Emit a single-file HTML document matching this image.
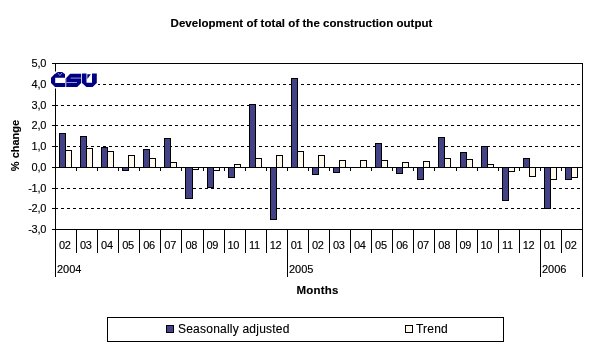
<!DOCTYPE html>
<html><head><meta charset="utf-8"><style>
html,body{margin:0;padding:0;background:#fff;width:604px;height:349px;overflow:hidden}
svg{position:absolute;left:0;top:0;will-change:transform}
text{font-family:"Liberation Sans", sans-serif;font-size:11px;fill:#000}
.thr{filter:url(#thr)}
</style></head><body>
<svg width="604" height="349" viewBox="0 0 604 349" shape-rendering="crispEdges">
<defs><filter id="thr" filterUnits="userSpaceOnUse" x="0" y="0" width="604" height="349"><feComponentTransfer><feFuncA type="gamma" amplitude="1" exponent="0.75" offset="0"/></feComponentTransfer></filter></defs>
<g class="thr">
<text x="301.5" y="27" text-anchor="middle" font-weight="bold" style="font-size:11.5px;letter-spacing:0.04px">Development of total of the construction output</text>
</g>
<line x1="55" y1="84.5" x2="582" y2="84.5" stroke="#000" stroke-width="1" stroke-dasharray="3 3"/>
<line x1="55" y1="105.5" x2="582" y2="105.5" stroke="#000" stroke-width="1" stroke-dasharray="3 3"/>
<line x1="55" y1="125.5" x2="582" y2="125.5" stroke="#000" stroke-width="1" stroke-dasharray="3 3"/>
<line x1="55" y1="146.5" x2="582" y2="146.5" stroke="#000" stroke-width="1" stroke-dasharray="3 3"/>
<line x1="55" y1="188.5" x2="582" y2="188.5" stroke="#000" stroke-width="1" stroke-dasharray="3 3"/>
<line x1="55" y1="208.5" x2="582" y2="208.5" stroke="#000" stroke-width="1" stroke-dasharray="3 3"/>
<rect x="59.5" y="133.5" width="6" height="34" fill="#444287" stroke="#000" stroke-width="1"/>
<rect x="65.5" y="150.5" width="6" height="17" fill="#fff9ec" stroke="#000" stroke-width="1"/>
<rect x="80.5" y="136.5" width="6" height="31" fill="#444287" stroke="#000" stroke-width="1"/>
<rect x="86.5" y="148.5" width="6" height="19" fill="#fff9ec" stroke="#000" stroke-width="1"/>
<rect x="101.5" y="147.5" width="6" height="20" fill="#444287" stroke="#000" stroke-width="1"/>
<rect x="107.5" y="151.5" width="6" height="16" fill="#fff9ec" stroke="#000" stroke-width="1"/>
<rect x="122.5" y="167.5" width="6" height="3" fill="#444287" stroke="#000" stroke-width="1"/>
<rect x="128.5" y="155.5" width="6" height="12" fill="#fff9ec" stroke="#000" stroke-width="1"/>
<rect x="143.5" y="149.5" width="6" height="18" fill="#444287" stroke="#000" stroke-width="1"/>
<rect x="149.5" y="158.5" width="6" height="9" fill="#fff9ec" stroke="#000" stroke-width="1"/>
<rect x="164.5" y="138.5" width="6" height="29" fill="#444287" stroke="#000" stroke-width="1"/>
<rect x="170.5" y="162.5" width="6" height="5" fill="#fff9ec" stroke="#000" stroke-width="1"/>
<rect x="185.5" y="167.5" width="7" height="31" fill="#444287" stroke="#000" stroke-width="1"/>
<rect x="192.5" y="167.5" width="6" height="2" fill="#fff9ec" stroke="#000" stroke-width="1"/>
<rect x="207.5" y="167.5" width="6" height="20" fill="#444287" stroke="#000" stroke-width="1"/>
<rect x="213.5" y="167.5" width="6" height="3" fill="#fff9ec" stroke="#000" stroke-width="1"/>
<rect x="228.5" y="167.5" width="6" height="10" fill="#444287" stroke="#000" stroke-width="1"/>
<rect x="234.5" y="164.5" width="6" height="3" fill="#fff9ec" stroke="#000" stroke-width="1"/>
<rect x="249.5" y="104.5" width="6" height="63" fill="#444287" stroke="#000" stroke-width="1"/>
<rect x="255.5" y="158.5" width="6" height="9" fill="#fff9ec" stroke="#000" stroke-width="1"/>
<rect x="270.5" y="167.5" width="6" height="52" fill="#444287" stroke="#000" stroke-width="1"/>
<rect x="276.5" y="155.5" width="6" height="12" fill="#fff9ec" stroke="#000" stroke-width="1"/>
<rect x="291.5" y="78.5" width="6" height="89" fill="#444287" stroke="#000" stroke-width="1"/>
<rect x="297.5" y="151.5" width="6" height="16" fill="#fff9ec" stroke="#000" stroke-width="1"/>
<rect x="312.5" y="167.5" width="6" height="7" fill="#444287" stroke="#000" stroke-width="1"/>
<rect x="318.5" y="155.5" width="6" height="12" fill="#fff9ec" stroke="#000" stroke-width="1"/>
<rect x="333.5" y="167.5" width="6" height="5" fill="#444287" stroke="#000" stroke-width="1"/>
<rect x="339.5" y="160.5" width="6" height="7" fill="#fff9ec" stroke="#000" stroke-width="1"/>
<rect x="360.5" y="160.5" width="6" height="7" fill="#fff9ec" stroke="#000" stroke-width="1"/>
<rect x="375.5" y="143.5" width="6" height="24" fill="#444287" stroke="#000" stroke-width="1"/>
<rect x="381.5" y="160.5" width="6" height="7" fill="#fff9ec" stroke="#000" stroke-width="1"/>
<rect x="396.5" y="167.5" width="6" height="6" fill="#444287" stroke="#000" stroke-width="1"/>
<rect x="402.5" y="162.5" width="6" height="5" fill="#fff9ec" stroke="#000" stroke-width="1"/>
<rect x="417.5" y="167.5" width="6" height="12" fill="#444287" stroke="#000" stroke-width="1"/>
<rect x="423.5" y="161.5" width="6" height="6" fill="#fff9ec" stroke="#000" stroke-width="1"/>
<rect x="438.5" y="137.5" width="6" height="30" fill="#444287" stroke="#000" stroke-width="1"/>
<rect x="444.5" y="158.5" width="6" height="9" fill="#fff9ec" stroke="#000" stroke-width="1"/>
<rect x="460.5" y="152.5" width="6" height="15" fill="#444287" stroke="#000" stroke-width="1"/>
<rect x="466.5" y="159.5" width="6" height="8" fill="#fff9ec" stroke="#000" stroke-width="1"/>
<rect x="481.5" y="146.5" width="6" height="21" fill="#444287" stroke="#000" stroke-width="1"/>
<rect x="487.5" y="164.5" width="6" height="3" fill="#fff9ec" stroke="#000" stroke-width="1"/>
<rect x="502.5" y="167.5" width="6" height="33" fill="#444287" stroke="#000" stroke-width="1"/>
<rect x="508.5" y="167.5" width="6" height="4" fill="#fff9ec" stroke="#000" stroke-width="1"/>
<rect x="523.5" y="158.5" width="6" height="9" fill="#444287" stroke="#000" stroke-width="1"/>
<rect x="529.5" y="167.5" width="6" height="9" fill="#fff9ec" stroke="#000" stroke-width="1"/>
<rect x="544.5" y="167.5" width="6" height="41" fill="#444287" stroke="#000" stroke-width="1"/>
<rect x="550.5" y="167.5" width="6" height="12" fill="#fff9ec" stroke="#000" stroke-width="1"/>
<rect x="565.5" y="167.5" width="6" height="12" fill="#444287" stroke="#000" stroke-width="1"/>
<rect x="571.5" y="167.5" width="6" height="10" fill="#fff9ec" stroke="#000" stroke-width="1"/>
<line x1="55" y1="167.5" x2="583" y2="167.5" stroke="#000"/>
<line x1="76.5" y1="168" x2="76.5" y2="171" stroke="#000"/>
<line x1="97.5" y1="168" x2="97.5" y2="171" stroke="#000"/>
<line x1="118.5" y1="168" x2="118.5" y2="171" stroke="#000"/>
<line x1="139.5" y1="168" x2="139.5" y2="171" stroke="#000"/>
<line x1="160.5" y1="168" x2="160.5" y2="171" stroke="#000"/>
<line x1="181.5" y1="168" x2="181.5" y2="171" stroke="#000"/>
<line x1="203.5" y1="168" x2="203.5" y2="171" stroke="#000"/>
<line x1="224.5" y1="168" x2="224.5" y2="171" stroke="#000"/>
<line x1="245.5" y1="168" x2="245.5" y2="171" stroke="#000"/>
<line x1="266.5" y1="168" x2="266.5" y2="171" stroke="#000"/>
<line x1="287.5" y1="168" x2="287.5" y2="171" stroke="#000"/>
<line x1="308.5" y1="168" x2="308.5" y2="171" stroke="#000"/>
<line x1="329.5" y1="168" x2="329.5" y2="171" stroke="#000"/>
<line x1="350.5" y1="168" x2="350.5" y2="171" stroke="#000"/>
<line x1="371.5" y1="168" x2="371.5" y2="171" stroke="#000"/>
<line x1="392.5" y1="168" x2="392.5" y2="171" stroke="#000"/>
<line x1="413.5" y1="168" x2="413.5" y2="171" stroke="#000"/>
<line x1="434.5" y1="168" x2="434.5" y2="171" stroke="#000"/>
<line x1="456.5" y1="168" x2="456.5" y2="171" stroke="#000"/>
<line x1="477.5" y1="168" x2="477.5" y2="171" stroke="#000"/>
<line x1="498.5" y1="168" x2="498.5" y2="171" stroke="#000"/>
<line x1="519.5" y1="168" x2="519.5" y2="171" stroke="#000"/>
<line x1="540.5" y1="168" x2="540.5" y2="171" stroke="#000"/>
<line x1="561.5" y1="168" x2="561.5" y2="171" stroke="#000"/>
<line x1="55" y1="63.5" x2="583" y2="63.5" stroke="#000"/>
<line x1="582.5" y1="63" x2="582.5" y2="277" stroke="#000"/>
<line x1="55.5" y1="63" x2="55.5" y2="277" stroke="#000"/>
<line x1="52" y1="229.5" x2="583" y2="229.5" stroke="#000"/>
<line x1="52" y1="63.5" x2="55" y2="63.5" stroke="#000"/>
<line x1="52" y1="84.5" x2="55" y2="84.5" stroke="#000"/>
<line x1="52" y1="105.5" x2="55" y2="105.5" stroke="#000"/>
<line x1="52" y1="125.5" x2="55" y2="125.5" stroke="#000"/>
<line x1="52" y1="146.5" x2="55" y2="146.5" stroke="#000"/>
<line x1="52" y1="167.5" x2="55" y2="167.5" stroke="#000"/>
<line x1="52" y1="188.5" x2="55" y2="188.5" stroke="#000"/>
<line x1="52" y1="208.5" x2="55" y2="208.5" stroke="#000"/>
<line x1="52" y1="229.5" x2="55" y2="229.5" stroke="#000"/>
<line x1="76.5" y1="229" x2="76.5" y2="253" stroke="#000"/>
<line x1="97.5" y1="229" x2="97.5" y2="253" stroke="#000"/>
<line x1="118.5" y1="229" x2="118.5" y2="253" stroke="#000"/>
<line x1="139.5" y1="229" x2="139.5" y2="253" stroke="#000"/>
<line x1="160.5" y1="229" x2="160.5" y2="253" stroke="#000"/>
<line x1="181.5" y1="229" x2="181.5" y2="253" stroke="#000"/>
<line x1="203.5" y1="229" x2="203.5" y2="253" stroke="#000"/>
<line x1="224.5" y1="229" x2="224.5" y2="253" stroke="#000"/>
<line x1="245.5" y1="229" x2="245.5" y2="253" stroke="#000"/>
<line x1="266.5" y1="229" x2="266.5" y2="253" stroke="#000"/>
<line x1="287.5" y1="229" x2="287.5" y2="277" stroke="#000"/>
<line x1="308.5" y1="229" x2="308.5" y2="253" stroke="#000"/>
<line x1="329.5" y1="229" x2="329.5" y2="253" stroke="#000"/>
<line x1="350.5" y1="229" x2="350.5" y2="253" stroke="#000"/>
<line x1="371.5" y1="229" x2="371.5" y2="253" stroke="#000"/>
<line x1="392.5" y1="229" x2="392.5" y2="253" stroke="#000"/>
<line x1="413.5" y1="229" x2="413.5" y2="253" stroke="#000"/>
<line x1="434.5" y1="229" x2="434.5" y2="253" stroke="#000"/>
<line x1="456.5" y1="229" x2="456.5" y2="253" stroke="#000"/>
<line x1="477.5" y1="229" x2="477.5" y2="253" stroke="#000"/>
<line x1="498.5" y1="229" x2="498.5" y2="253" stroke="#000"/>
<line x1="519.5" y1="229" x2="519.5" y2="253" stroke="#000"/>
<line x1="540.5" y1="229" x2="540.5" y2="277" stroke="#000"/>
<line x1="561.5" y1="229" x2="561.5" y2="253" stroke="#000"/>
<g class="thr">
<text x="46.1" y="67" text-anchor="end" style="letter-spacing:-0.25px">5,0</text>
<text x="46.1" y="88" text-anchor="end" style="letter-spacing:-0.25px">4,0</text>
<text x="46.1" y="109" text-anchor="end" style="letter-spacing:-0.25px">3,0</text>
<text x="46.1" y="129" text-anchor="end" style="letter-spacing:-0.25px">2,0</text>
<text x="46.1" y="150" text-anchor="end" style="letter-spacing:-0.25px">1,0</text>
<text x="46.1" y="171" text-anchor="end" style="letter-spacing:-0.25px">0,0</text>
<text x="46.1" y="192" text-anchor="end" style="letter-spacing:-0.25px">-1,0</text>
<text x="46.1" y="212" text-anchor="end" style="letter-spacing:-0.25px">-2,0</text>
<text x="46.1" y="233" text-anchor="end" style="letter-spacing:-0.25px">-3,0</text>
<text x="64.74" y="249" text-anchor="middle" style="letter-spacing:-0.3px">02</text>
<text x="85.82" y="249" text-anchor="middle" style="letter-spacing:-0.3px">03</text>
<text x="106.90" y="249" text-anchor="middle" style="letter-spacing:-0.3px">04</text>
<text x="127.98" y="249" text-anchor="middle" style="letter-spacing:-0.3px">05</text>
<text x="149.06" y="249" text-anchor="middle" style="letter-spacing:-0.3px">06</text>
<text x="170.14" y="249" text-anchor="middle" style="letter-spacing:-0.3px">07</text>
<text x="191.22" y="249" text-anchor="middle" style="letter-spacing:-0.3px">08</text>
<text x="212.30" y="249" text-anchor="middle" style="letter-spacing:-0.3px">09</text>
<text x="233.38" y="249" text-anchor="middle" style="letter-spacing:-0.3px">10</text>
<text x="254.46" y="249" text-anchor="middle" style="letter-spacing:-0.3px">11</text>
<text x="275.54" y="249" text-anchor="middle" style="letter-spacing:-0.3px">12</text>
<text x="296.62" y="249" text-anchor="middle" style="letter-spacing:-0.3px">01</text>
<text x="317.70" y="249" text-anchor="middle" style="letter-spacing:-0.3px">02</text>
<text x="338.78" y="249" text-anchor="middle" style="letter-spacing:-0.3px">03</text>
<text x="359.86" y="249" text-anchor="middle" style="letter-spacing:-0.3px">04</text>
<text x="380.94" y="249" text-anchor="middle" style="letter-spacing:-0.3px">05</text>
<text x="402.02" y="249" text-anchor="middle" style="letter-spacing:-0.3px">06</text>
<text x="423.10" y="249" text-anchor="middle" style="letter-spacing:-0.3px">07</text>
<text x="444.18" y="249" text-anchor="middle" style="letter-spacing:-0.3px">08</text>
<text x="465.26" y="249" text-anchor="middle" style="letter-spacing:-0.3px">09</text>
<text x="486.34" y="249" text-anchor="middle" style="letter-spacing:-0.3px">10</text>
<text x="507.42" y="249" text-anchor="middle" style="letter-spacing:-0.3px">11</text>
<text x="528.50" y="249" text-anchor="middle" style="letter-spacing:-0.3px">12</text>
<text x="549.58" y="249" text-anchor="middle" style="letter-spacing:-0.3px">01</text>
<text x="570.66" y="249" text-anchor="middle" style="letter-spacing:-0.3px">02</text>
<text x="57" y="273">2004</text>
<text x="289" y="273">2005</text>
<text x="542" y="273">2006</text>
<text transform="translate(19,145.5) rotate(-90)" text-anchor="middle" font-weight="bold">% change</text>
<text x="317.5" y="294" text-anchor="middle" font-weight="bold" style="font-size:11.5px;letter-spacing:0.2px">Months</text>
</g>
<g shape-rendering="geometricPrecision">
<rect x="50" y="71.5" width="48" height="17" fill="#fff"/>
<g fill="#000084">
<path d="M51,77.7 L54.9,73.8 L65,73.8 L65,77.7 L55.2,77.7 L55.2,82.9 L65,82.9 L65,86.9 L55,86.9 L51,82.9 Z"/>
<path d="M55.4,73.9 L57.2,72.1 L62.5,72.1 L64.2,73.9 Z"/>
<path d="M66.2,78 L70.2,73.7 L81.2,73.7 L81.2,83.1 L77.2,86.9 L66.2,86.9 Z"/>
<path d="M82,73.6 L86.5,73.6 L86.5,82.7 L92,82.7 L92,73.6 L96.8,73.6 L96.8,82.9 L92.6,86.9 L86.4,86.9 L82,82.9 Z"/>
<path d="M87.3,74.3 L90.9,74.3 L87.3,78.9 Z"/>
</g>
<g stroke="#9a9ad2" stroke-width="1" fill="none">
<path d="M70.6,78.1 L81.2,78.1"/>
<path d="M66.2,82.5 L76.9,82.5"/>
<path d="M65.6,78.3 L65.6,86.9"/>
<path d="M57.6,72.6 L59.9,75.6 L62.2,72.6" stroke-width="0.9"/>
</g>
</g>
<g class="thr">
<rect x="107.5" y="317.5" width="396" height="24" fill="none" stroke="#000"/>
<rect x="166.5" y="325.5" width="7" height="7" fill="#444287" stroke="#000"/>
<text x="178" y="333" style="font-size:12px;letter-spacing:0.22px">Seasonally adjusted</text>
<rect x="405.5" y="325.5" width="7" height="7" fill="#fff9ec" stroke="#000"/>
<text x="416" y="333" style="font-size:12px;letter-spacing:0.22px">Trend</text></g>
</svg>
</body></html>
